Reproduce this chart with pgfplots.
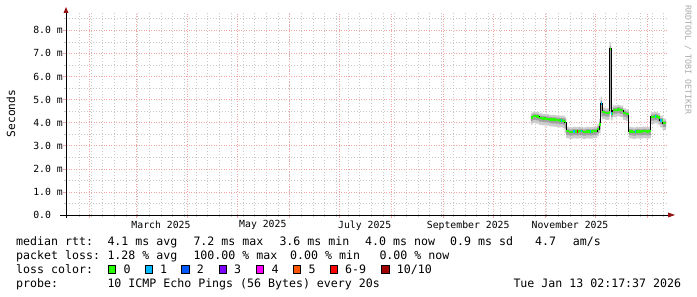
\documentclass[border=0pt]{standalone}
\usepackage{pgfplots}
\pgfplotsset{compat=1.18}
\usepackage{pgfplotstable}
\usepgfplotslibrary{fillbetween}
\usepackage{fontspec}
\setmainfont{DejaVu Sans Mono}
\definecolor{mgrid}{RGB}{242,165,165}
\definecolor{ngrid}{RGB}{200,200,200}
\definecolor{arrowred}{RGB}{150,20,20}
\definecolor{smokeA}{RGB}{205,205,205}
\definecolor{smokeB}{RGB}{160,160,160}
\definecolor{lossA}{HTML}{26FF00}
\definecolor{lossB}{HTML}{00B8FF}
\definecolor{lossC}{HTML}{0059FF}
\definecolor{lossD}{HTML}{7E00FF}
\definecolor{lossE}{HTML}{FF00FF}
\definecolor{lossF}{HTML}{FF5500}
\definecolor{lossG}{HTML}{FF0000}
\definecolor{lossH}{HTML}{A10000}
\newcommand{\legfont}{\fontsize{11.6}{13}\selectfont}
\newcommand{\axfont}{\fontsize{9.8}{11}\selectfont}

% x = days since 1 Jan 2025, y = median rtt (ms); l1/h1 outer smoke, l2/h2 inner smoke
\pgfplotstableread{
x      y     l1    h1    l2    h2
295.6  4.22  3.92  4.42  4.06  4.32
296.6  4.28  3.98  4.48  4.12  4.38
298.5  4.26  3.96  4.46  4.10  4.36
300.5  4.20  3.90  4.40  4.04  4.30
302.5  4.18  3.88  4.38  4.02  4.28
304.5  4.17  3.87  4.37  4.01  4.27
306.5  4.14  3.84  4.34  3.98  4.24
308.5  4.13  3.83  4.33  3.97  4.23
310.5  4.12  3.82  4.32  3.96  4.22
312.5  4.10  3.80  4.30  3.94  4.20
314.5  4.08  3.76  4.30  3.92  4.20
315.8  4.02  3.55  4.25  3.75  4.15
316.6  3.63  3.33  3.83  3.47  3.73
318.5  3.60  3.30  3.80  3.44  3.70
320.5  3.62  3.32  3.82  3.46  3.72
322.5  3.61  3.31  3.81  3.45  3.71
324.5  3.63  3.33  3.83  3.47  3.73
326.5  3.60  3.30  3.80  3.44  3.70
328.5  3.62  3.32  3.82  3.46  3.72
330.5  3.61  3.31  3.81  3.45  3.71
332.5  3.63  3.33  3.83  3.47  3.73
334.5  3.64  3.34  3.84  3.48  3.74
335.4  3.72  3.42  3.95  3.56  3.84
336.4  3.92  3.55  4.15  3.72  4.05
337.3  4.83  4.25  5.12  4.40  4.95
338.2  4.45  4.15  4.65  4.29  4.55
340.2  4.42  4.12  4.62  4.26  4.52
342.5  4.44  4.14  4.64  4.28  4.54
342.8  7.20  4.40  7.48  4.60  7.32
343.7  4.40  4.10  4.60  4.24  4.50
344.5  4.55  4.25  4.75  4.39  4.65
347.0  4.57  4.27  4.77  4.41  4.67
349.0  4.54  4.24  4.74  4.38  4.64
350.8  4.42  4.12  4.62  4.26  4.52
352.5  4.38  4.08  4.58  4.22  4.48
354.3  3.62  3.32  3.82  3.46  3.72
356.5  3.60  3.30  3.80  3.44  3.70
358.5  3.62  3.32  3.82  3.46  3.72
360.5  3.61  3.31  3.81  3.45  3.71
362.5  3.63  3.33  3.83  3.47  3.73
364.5  3.61  3.31  3.81  3.45  3.71
366.5  3.63  3.33  3.83  3.47  3.73
367.4  4.25  3.95  4.45  4.09  4.35
369.5  4.27  3.97  4.47  4.11  4.37
371.5  4.22  3.92  4.42  4.06  4.32
372.8  4.10  3.80  4.30  3.94  4.20
374.5  3.98  3.68  4.18  3.82  4.08
376.5  3.98  3.68  4.18  3.82  4.08
}\smoke

\begin{document}
\begin{tikzpicture}
\begin{axis}[
  scale only axis, width=601pt, height=202pt,
  at={(66pt,82pt)}, anchor=south west,
  xmin=17.095, xmax=377.095, ymin=0, ymax=8.75,
  axis lines*=left, axis line style={draw=none},
  xtick={31,59,90,120,151,181,212,243,273,304,334,365},
  xticklabels={},
  minor xtick={25,32,...,375},
  ytick={0,1,2,3,4,5,6,7,8},
  yticklabels={0.0\phantom{~m},1.0~m,2.0~m,3.0~m,4.0~m,5.0~m,6.0~m,7.0~m,8.0~m},
  minor ytick={0.5,1.5,2.5,3.5,4.5,5.5,6.5,7.5,8.5},
  grid=both,
  major grid style={mgrid, dash pattern=on 1pt off 1.5pt, line width=0.6pt},
  minor grid style={ngrid, dash pattern=on 1pt off 2pt, line width=0.6pt},
  tick align=outside,
  major tick length=3pt, minor tick length=2pt,
  major tick style={mgrid, line width=0.6pt},
  minor tick style={ngrid, line width=0.6pt},
  extra x ticks={74,135,196,258,319},
  extra x tick labels={March 2025,May 2025,July 2025,September 2025,November 2025},
  extra x tick style={grid=none, major tick length=0pt},
  ticklabel style={font=\axfont, text=black, inner sep=0pt},
  yticklabel style={anchor=east},
  xticklabel style={anchor=north, yshift=-5.5pt},
]
\addplot[const plot, draw=none, name path=hA, forget plot] table[x=x,y=h1]{\smoke};
\addplot[const plot, draw=none, name path=lA, forget plot] table[x=x,y=l1]{\smoke};
\addplot[fill=smokeA, draw=none, forget plot] fill between[of=hA and lA];
\addplot[const plot, draw=none, name path=hB, forget plot] table[x=x,y=h2]{\smoke};
\addplot[const plot, draw=none, name path=lB, forget plot] table[x=x,y=l2]{\smoke};
\addplot[fill=smokeB, draw=none, forget plot] fill between[of=hB and lB];
\addplot[const plot, black, line width=0.9pt] table[x=x,y=y]{\smoke};
\addplot[jump mark left, lossA, line width=2.4pt] table[x=x,y=y]{\smoke};
% short loss-1 / loss-6 stretches of the median
\addplot[lossB, line width=2.4pt] coordinates {(313.4,4.10) (314.4,4.10)};
\addplot[lossB, line width=2.4pt] coordinates {(320.9,3.62) (321.7,3.62)};
\addplot[lossG, line width=2.4pt] coordinates {(323.3,3.61) (323.8,3.61)};
\addplot[lossB, line width=2.4pt] coordinates {(325.6,3.63) (326.4,3.63)};
\addplot[lossB, line width=2.4pt] coordinates {(331.0,3.61) (331.8,3.61)};
\addplot[lossB, line width=2.4pt] coordinates {(337.3,4.83) (338.0,4.83)};
\addplot[lossB, line width=2.4pt] coordinates {(343.7,4.40) (344.4,4.40)};
\addplot[lossB, line width=2.4pt] coordinates {(358.0,3.62) (358.8,3.62)};
\addplot[lossB, line width=2.4pt] coordinates {(369.8,4.27) (370.6,4.27)};
\addplot[lossB, line width=2.4pt] coordinates {(373.2,4.10) (374.0,4.10)};
\end{axis}
% axis lines with arrows
\draw[black, line width=0.9pt] (60pt,82pt) -- (668pt,82pt);
\fill[arrowred] (668pt,79.5pt) -- (675pt,82pt) -- (668pt,84.5pt) -- cycle;
\draw[black, line width=0.9pt] (66pt,79pt) -- (66pt,284pt);
\fill[arrowred] (63.5pt,284pt) -- (66pt,290pt) -- (68.5pt,284pt) -- cycle;
% axis title and watermark
\node[rotate=90, font=\fontsize{11.2}{12}\selectfont, inner sep=0pt] at (11pt,183.5pt) {Seconds};
\node[rotate=-90, font=\fontsize{8.3}{9}\selectfont, text={rgb,255:red,170;green,170;blue,170}, inner sep=0pt] at (688pt,237pt) {RRDTOOL / TOBI OETIKER};
% legend rows
\begin{scope}[every node/.style={anchor=base west, inner sep=0pt, font=\legfont}]
\node at (16pt,51.3pt) {median rtt:};
\node at (107.3pt,51.3pt) {4.1 ms avg};
\node at (193.3pt,51.3pt) {7.2 ms max};
\node at (279.3pt,51.3pt) {3.6 ms min};
\node at (365pt,51.3pt) {4.0 ms now};
\node at (450pt,51.3pt) {0.9 ms sd};
\node at (535pt,51.3pt) {4.7};
\node at (572.7pt,51.3pt) {am/s};
\node at (16pt,37.7pt) {packet loss:};
\node at (107.3pt,37.7pt) {1.28 \% avg};
\node at (193.3pt,37.7pt) {100.00 \% max};
\node at (290pt,37.7pt) {0.00 \% min};
\node at (379.3pt,37.7pt) {0.00 \% now};
\node at (16pt,23.7pt) {loss color:};
\node at (123.3pt,23.7pt) {0};
\node at (160pt,23.7pt) {1};
\node at (196.7pt,23.7pt) {2};
\node at (234pt,23.7pt) {3};
\node at (271.3pt,23.7pt) {4};
\node at (308.3pt,23.7pt) {5};
\node at (345pt,23.7pt) {6-9};
\node at (396.7pt,23.7pt) {10/10};
\node at (16pt,9.7pt) {probe:};
\node at (107.3pt,9.7pt) {10 ICMP Echo Pings (56 Bytes) every 20s};
\node at (513.3pt,9.7pt) {Tue Jan 13 02:17:37 2026};
\end{scope}
\foreach \sx/\sc in {108.3/lossA,145/lossB,181.7/lossC,219/lossD,256.3/lossE,293.3/lossF,330/lossG,381.7/lossH}{
  \filldraw[fill=\sc, draw=black, line width=0.5pt] (\sx pt,24pt) rectangle ++(7.3pt,7.3pt);
}
\pgfresetboundingbox
\path[use as bounding box] (0,0) rectangle (697pt,297pt);
\end{tikzpicture}
\end{document}
